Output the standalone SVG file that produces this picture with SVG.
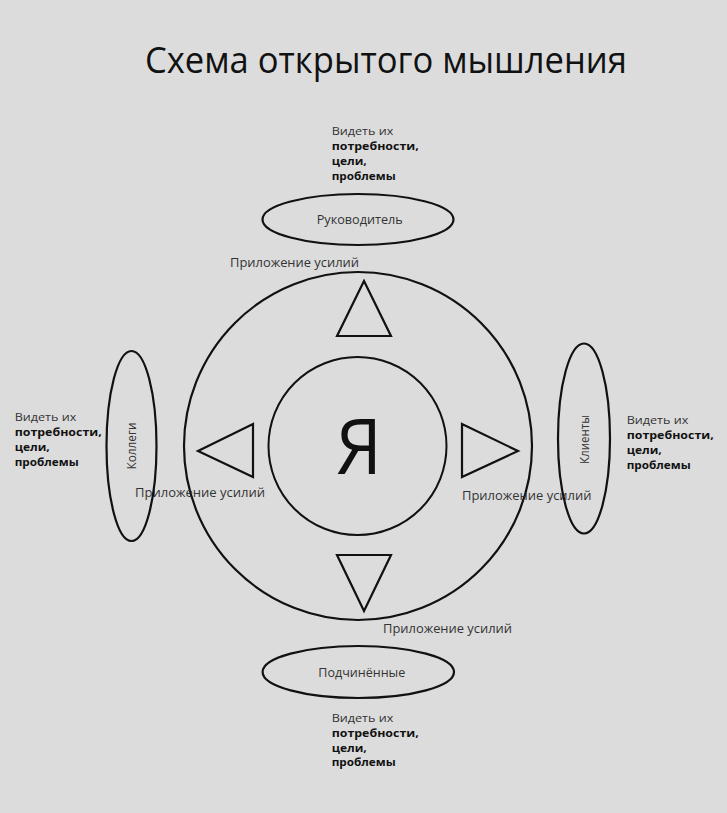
<svg xmlns="http://www.w3.org/2000/svg" width="727" height="813" viewBox="0 0 727 813">
<style>
.bg{fill:#dcdcdc}
.sh{fill:none;stroke:#111;stroke-width:2.2}
.t{font-family:"Open Sans","Liberation Sans",sans-serif;font-size:12px;fill:#333}
.s{font-family:"Open Sans","Liberation Sans",sans-serif;font-size:11px;fill:#333}
.b{font-family:"Open Sans","Liberation Sans",sans-serif;font-size:11px;font-weight:bold;fill:#111}
.title{font-family:"Open Sans","Liberation Sans",sans-serif;font-size:37px;fill:#111}
.ya{font-family:"Open Sans","Liberation Sans",sans-serif;font-size:76px;fill:#111}
</style>
<rect class="bg" x="0" y="0" width="727" height="813"/>
<text class="title" x="145" y="72.5" textLength="482" lengthAdjust="spacingAndGlyphs">Схема открытого мышления</text>

<g id="outer">
<circle class="sh" cx="358" cy="446" r="174"/>
</g>
<g id="me">
<circle class="sh" cx="357.5" cy="446" r="89" style="stroke-width:2"/>
<text class="ya" x="336" y="474" textLength="46" lengthAdjust="spacingAndGlyphs">Я</text>
</g>

<g id="connectors">
<polygon class="sh" points="364,281 391,336 337,336"/>
<polygon class="sh" points="337,555 391,555 364,611"/>
<polygon class="sh" points="198,451 253,424 253,477"/>
<polygon class="sh" points="518,451 462,424 462,477"/>
<text class="t" x="230" y="266.5" textLength="129" lengthAdjust="spacingAndGlyphs">Приложение усилий</text>
<text class="t" x="135" y="497" textLength="130" lengthAdjust="spacingAndGlyphs">Приложение усилий</text>
<text class="t" x="462" y="500" textLength="129.5" lengthAdjust="spacingAndGlyphs">Приложение усилий</text>
<text class="t" x="383" y="632.5" textLength="129" lengthAdjust="spacingAndGlyphs">Приложение усилий</text>
</g>

<g id="boss">
<ellipse class="sh" cx="358" cy="219.5" rx="95.5" ry="25.5"/>
<text class="t" x="316.7" y="224" textLength="86" lengthAdjust="spacingAndGlyphs">Руководитель</text>
<text class="s" x="331.7" y="135" textLength="61.6" lengthAdjust="spacingAndGlyphs">Видеть их</text>
<text class="b" x="331.7" y="150" textLength="87" lengthAdjust="spacingAndGlyphs">потребности,</text>
<text class="b" x="331.7" y="165" textLength="35" lengthAdjust="spacingAndGlyphs">цели,</text>
<text class="b" x="331.7" y="180" textLength="64" lengthAdjust="spacingAndGlyphs">проблемы</text>
</g>

<g id="colleagues">
<ellipse class="sh" cx="131.5" cy="446" rx="25" ry="95"/>
<text class="t" transform="translate(135.5,446) rotate(-90)" text-anchor="middle" textLength="47" lengthAdjust="spacingAndGlyphs">Коллеги</text>
<text class="s" x="14.7" y="421" textLength="61.6" lengthAdjust="spacingAndGlyphs">Видеть их</text>
<text class="b" x="14.7" y="436" textLength="87" lengthAdjust="spacingAndGlyphs">потребности,</text>
<text class="b" x="14.7" y="451" textLength="35" lengthAdjust="spacingAndGlyphs">цели,</text>
<text class="b" x="14.7" y="465.5" textLength="64" lengthAdjust="spacingAndGlyphs">проблемы</text>
</g>

<g id="clients">
<ellipse class="sh" cx="584" cy="438.5" rx="26" ry="95"/>
<text class="t" transform="translate(588.5,439.5) rotate(-90)" text-anchor="middle" textLength="49" lengthAdjust="spacingAndGlyphs">Клиенты</text>
<text class="s" x="626.7" y="424" textLength="61.6" lengthAdjust="spacingAndGlyphs">Видеть их</text>
<text class="b" x="626.7" y="439" textLength="87" lengthAdjust="spacingAndGlyphs">потребности,</text>
<text class="b" x="626.7" y="454" textLength="35" lengthAdjust="spacingAndGlyphs">цели,</text>
<text class="b" x="626.7" y="468.5" textLength="64" lengthAdjust="spacingAndGlyphs">проблемы</text>
</g>

<g id="subordinates">
<ellipse class="sh" cx="358.3" cy="672" rx="95.7" ry="26"/>
<text class="t" x="318.3" y="677" textLength="87" lengthAdjust="spacingAndGlyphs">Подчинённые</text>
<text class="s" x="331.7" y="722" textLength="61.6" lengthAdjust="spacingAndGlyphs">Видеть их</text>
<text class="b" x="331.7" y="737" textLength="87" lengthAdjust="spacingAndGlyphs">потребности,</text>
<text class="b" x="331.7" y="751.5" textLength="35" lengthAdjust="spacingAndGlyphs">цели,</text>
<text class="b" x="331.7" y="766" textLength="64" lengthAdjust="spacingAndGlyphs">проблемы</text>
</g>
</svg>
